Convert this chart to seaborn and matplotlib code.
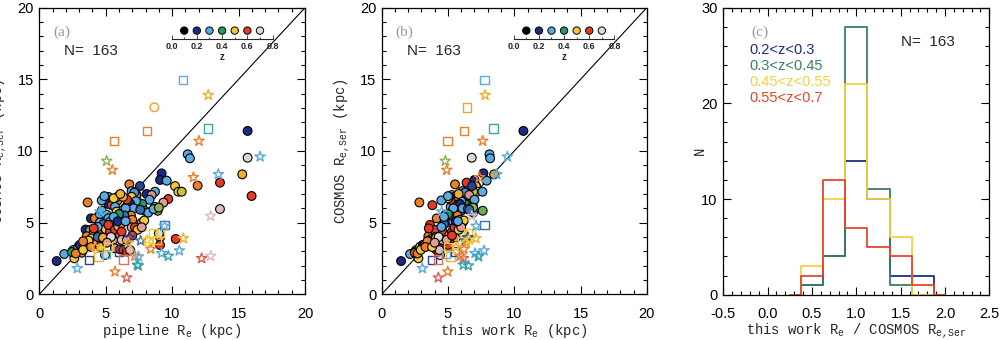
import numpy as np
import pandas as pd
import matplotlib
matplotlib.use("Agg")
import matplotlib.pyplot as plt
import seaborn as sns
from matplotlib.colors import LinearSegmentedColormap
from matplotlib.ticker import MultipleLocator, FormatStrFormatter

# ---------------- data ----------------
# filled circles: COSMOS R_e,Ser (y), redshift, pipeline R_e (panel a x), this-work R_e (panel b x)
circ_ser = [11.40, 9.53, 9.77, 9.49, 8.37, 7.79, 7.58, 6.86, 5.95, 8.44,
            7.98, 7.93, 7.55, 7.16, 7.16, 6.65, 6.40, 6.10, 5.83, 7.55,
            7.67, 7.00, 7.16, 6.93, 6.93, 7.20, 7.10, 6.93, 6.60, 6.35,
            6.30, 5.83, 6.41, 3.86, 3.97, 3.44, 4.25, 2.32, 2.81, 2.51,
            3.09, 2.95, 2.90, 3.32, 3.45, 3.44, 2.85, 3.10, 5.30, 5.30,
            4.52, 4.47, 4.23, 4.23, 4.23, 4.05, 3.90, 3.67, 3.55, 5.02,
            5.60, 5.84, 6.80, 6.55, 6.30, 6.53, 6.80, 6.22, 6.10, 5.77,
            5.55, 5.30, 5.05, 4.90, 4.55, 4.37, 4.84, 4.50, 3.79, 3.21,
            2.74, 4.14, 4.72, 4.95, 4.37, 3.14, 3.09, 2.98, 3.09, 3.79,
            6.80, 6.50, 6.30, 6.00, 5.50, 5.20, 4.67, 4.67, 5.00, 5.15,
            4.50, 4.68, 6.00, 5.50, 5.60, 5.40, 4.70, 4.60, 6.60, 6.80,
            6.70, 4.00, 3.75, 3.70, 3.95, 4.00, 3.80, 4.10, 5.10, 5.10,
            5.70, 5.95, 6.05, 5.90, 3.30, 3.30, 3.60, 6.55, 6.85, 7.00]
circ_z = [0.20, 0.70, 0.30, 0.30, 0.52, 0.60, 0.55, 0.60, 0.68, 0.20,
          0.20, 0.30, 0.50, 0.50, 0.48, 0.60, 0.66, 0.30, 0.44, 0.22,
          0.55, 0.20, 0.30, 0.50, 0.66, 0.30, 0.28, 0.65, 0.30, 0.30,
          0.40, 0.40, 0.55, 0.60, 0.65, 0.60, 0.70, 0.20, 0.30, 0.50,
          0.30, 0.40, 0.55, 0.50, 0.20, 0.55, 0.55, 0.50, 0.20, 0.55,
          0.20, 0.45, 0.55, 0.50, 0.55, 0.55, 0.50, 0.55, 0.60, 0.30,
          0.30, 0.30, 0.30, 0.30, 0.20, 0.55, 0.50, 0.60, 0.30, 0.50,
          0.30, 0.30, 0.30, 0.25, 0.50, 0.60, 0.60, 0.60, 0.66, 0.66,
          0.70, 0.55, 0.66, 0.55, 0.60, 0.60, 0.60, 0.60, 0.68, 0.68,
          0.50, 0.30, 0.20, 0.30, 0.55, 0.55, 0.66, 0.60, 0.55, 0.50,
          0.50, 0.66, 0.30, 0.25, 0.40, 0.30, 0.30, 0.60, 0.60, 0.52,
          0.50, 0.25, 0.50, 0.55, 0.52, 0.70, 0.66, 0.60, 0.20, 0.30,
          0.30, 0.30, 0.45, 0.25, 0.55, 0.50, 0.66, 0.30, 0.30, 0.52]
circ_pipe = [15.68, 15.68, 11.17, 11.34, 15.28, 13.60, 11.92, 15.98, 13.60, 9.21,
             9.09, 9.59, 10.22, 10.47, 10.72, 9.71, 9.34, 8.71, 8.91, 7.58,
             6.78, 8.08, 8.71, 7.33, 7.28, 6.95, 7.15, 8.46, 8.30, 7.58,
             7.75, 7.95, 3.64, 10.27, 9.09, 9.09, 9.00, 1.31, 1.88, 2.64,
             2.56, 2.45, 3.19, 2.94, 3.05, 3.57, 2.75, 3.30, 3.89, 4.19,
             3.49, 3.82, 4.07, 4.57, 4.95, 3.57, 3.94, 4.32, 4.25, 4.57,
             4.57, 4.70, 5.20, 5.20, 5.20, 5.88, 5.88, 5.45, 5.70, 5.82,
             5.07, 5.20, 5.32, 4.82, 5.00, 5.32, 5.20, 5.70, 5.57, 5.70,
             4.95, 6.08, 5.95, 6.20, 6.20, 6.08, 6.33, 6.58, 6.83, 6.20,
             6.95, 7.28, 6.85, 7.10, 6.90, 7.00, 6.95, 7.20, 7.71, 7.90,
             7.40, 7.71, 6.50, 6.40, 6.00, 5.60, 4.40, 4.10, 6.60, 6.30,
             5.60, 4.40, 3.70, 3.30, 4.80, 5.40, 6.60, 7.00, 5.90, 6.50,
             8.20, 8.60, 9.00, 7.60, 3.90, 4.60, 5.10, 4.70, 4.90, 6.10]
circ_this = [10.69, 6.79, 8.13, 8.18, 8.48, 6.40, 7.10, 6.80, 6.10, 7.67,
             7.00, 7.92, 7.10, 7.20, 6.90, 6.79, 6.20, 6.90, 7.62, 6.80,
             5.53, 6.50, 7.60, 6.50, 5.30, 6.10, 6.30, 6.60, 7.00, 6.30,
             6.29, 6.00, 2.84, 5.20, 5.60, 5.00, 6.10, 1.46, 2.14, 2.77,
             2.60, 2.50, 2.51, 2.90, 3.10, 3.27, 2.70, 2.95, 4.90, 4.15,
             4.50, 4.30, 3.90, 4.20, 4.60, 3.52, 3.80, 3.60, 3.70, 5.00,
             5.30, 5.60, 5.60, 5.80, 5.50, 5.40, 5.50, 3.82, 5.20, 5.30,
             4.80, 5.20, 5.40, 4.70, 4.40, 4.60, 3.64, 4.00, 4.50, 4.30,
             4.40, 5.10, 5.80, 5.60, 5.30, 4.10, 4.20, 4.25, 4.35, 4.60,
             5.70, 6.00, 5.90, 6.10, 5.70, 5.90, 5.50, 5.50, 6.10, 6.20,
             5.80, 6.00, 5.40, 5.10, 5.00, 4.70, 4.50, 3.55, 5.20, 5.10,
             5.00, 4.05, 3.50, 3.45, 4.10, 4.30, 4.90, 5.30, 5.60, 5.75,
             6.90, 6.50, 6.90, 6.60, 3.30, 3.80, 4.00, 4.50, 5.00, 5.80]

# open squares
sq_ser = [14.95, 11.40, 11.58, 10.70, 2.40, 2.63, 2.79, 2.98, 2.44, 3.32, 4.30, 4.30, 3.79, 3.74, 4.84]
sq_z = [0.30, 0.55, 0.35, 0.55, 0.22, 0.52, 0.30, 0.22, 0.63, 0.50, 0.50, 0.50, 0.50, 0.50, 0.25]
sq_pipe = [10.84, 8.13, 12.72, 5.65, 3.74, 4.45, 5.02, 5.98, 6.33, 5.15, 8.58, 9.09, 8.84, 8.20, 9.42]
sq_this = [7.75, 6.21, 8.43, 4.96, 3.77, 5.20, 4.86, 5.53, 4.23, 5.00, 6.50, 6.70, 6.30, 6.10, 7.75]

# open stars
st_ser = [13.90, 10.70, 9.60, 9.30, 8.67, 8.16, 8.37, 5.46, 3.90, 3.05,
          2.51, 2.67, 1.81, 1.58, 1.16, 5.77, 3.97, 3.74, 3.60, 2.67,
          2.63, 2.05, 2.00, 3.16, 3.79, 2.86, 2.67, 4.77, 3.30]
st_z = [0.52, 0.55, 0.30, 0.45, 0.55, 0.55, 0.30, 0.68, 0.52, 0.30,
        0.62, 0.68, 0.30, 0.55, 0.62, 0.30, 0.22, 0.25, 0.52, 0.55,
        0.30, 0.35, 0.35, 0.55, 0.50, 0.30, 0.35, 0.30, 0.52]
st_pipe = [12.72, 12.02, 16.62, 5.07, 5.50, 11.60, 13.48, 12.90, 10.84, 10.54,
           12.22, 12.90, 2.86, 5.70, 6.58, 4.57, 6.83, 7.63, 6.70, 7.20,
           7.46, 7.38, 7.45, 8.39, 8.13, 9.21, 9.71, 9.42, 4.20]
st_this = [7.80, 7.62, 9.48, 4.80, 4.90, 7.37, 8.68, 6.80, 7.10, 7.72,
           6.16, 6.00, 3.07, 4.98, 4.27, 4.53, 6.50, 6.30, 6.40, 5.90,
           7.30, 6.16, 6.54, 6.20, 6.60, 7.04, 7.30, 7.12, 5.60]

# one open object drawn as a circle in (a) and a square in (b)
odd_ser = [13.05]
odd_z = [0.53]
odd_pipe = [8.66]
odd_this = [6.42]

# redshift key
key_z = [0.1, 0.2, 0.3, 0.4, 0.5, 0.6, 0.7]
key_ticks = [0.0, 0.2, 0.4, 0.6, 0.8]

# histogram (panel c)
hist_centers = [0.25, 0.5, 0.75, 1.0, 1.25, 1.5, 1.75, 2.0]
n_blue = [0, 1, 4, 14, 10, 2, 2, 0]
n_green = [0, 1, 4, 28, 11, 1, 0, 0]
n_yellow = [0, 3, 10, 22, 10, 6, 0, 0]
n_red = [0, 2, 12, 7, 5, 4, 1, 0]
hist_labels = ["0.2<z<0.3", "0.3<z<0.45", "0.45<z<0.55", "0.55<z<0.7"]
hist_colors = ["#1c2c8c", "#3a7f60", "#f6d040", "#e8462c"]
n_total = 163

# ---------------- style ----------------
sns.set_style("ticks")
plt.rcParams["font.family"] = ["Liberation Sans", "DejaVu Sans"]
plt.rcParams["mathtext.default"] = "regular"
plt.rcParams["axes.linewidth"] = 0.9

zmap = LinearSegmentedColormap.from_list(
    "zmap",
    [(0.0, "#000000"), (0.125, "#000000"), (0.25, "#1b2a80"), (0.375, "#5aaee2"),
     (0.5, "#1a9a6c"), (0.625, "#f4cc33"), (0.75, "#e53a22"), (0.875, "#dcdcdc"),
     (1.0, "#ffffff")])
ZN = (0.0, 0.8)

MONO = ["Liberation Mono", "DejaVu Sans Mono"]
SERIF = ["Liberation Serif", "DejaVu Serif"]

fig = plt.figure(figsize=(10.04, 3.4), dpi=100)
ax_a = fig.add_axes([0.0391, 0.1344, 0.2647, 0.843])
ax_b = fig.add_axes([0.3802, 0.1344, 0.2640, 0.843])
ax_c = fig.add_axes([0.7204, 0.1332, 0.2650, 0.8442])


def style_axes(ax, xmaj, xmin, ymaj, ymin):
    ax.xaxis.set_major_locator(MultipleLocator(xmaj))
    ax.xaxis.set_minor_locator(MultipleLocator(xmin))
    ax.yaxis.set_major_locator(MultipleLocator(ymaj))
    ax.yaxis.set_minor_locator(MultipleLocator(ymin))
    ax.tick_params(which="both", direction="in", top=True, right=True, width=0.8, colors="black")
    ax.tick_params(which="major", length=6)
    ax.tick_params(which="minor", length=3)
    ax.tick_params(axis="x", which="both", pad=9, labelsize=10.5)
    ax.tick_params(axis="y", which="both", pad=4, labelsize=10.5)
    for s in ax.spines.values():
        s.set_color("black")
        s.set_linewidth(0.9)


def open_points(ax, x, y, z, marker, size):
    sns.scatterplot(x=x, y=y, hue=z, palette=zmap, hue_norm=ZN, marker=marker, s=size,
                    linewidth=1.0, legend=False, ax=ax, zorder=3)
    coll = ax.collections[-1]
    fc = coll.get_facecolors()
    coll.set_edgecolors(fc)
    coll.set_facecolors("none")


def z_key(ax):
    ins = ax.inset_axes([0.498, 0.89, 0.38, 0.06])
    ins.set_xlim(0, 0.8)
    ins.set_ylim(0, 1)
    ins.patch.set_alpha(0)
    for s in ["top", "left", "right"]:
        ins.spines[s].set_visible(False)
    ins.spines["bottom"].set_linewidth(0.8)
    ins.set_yticks([])
    ins.set_xticks(key_ticks)
    ins.xaxis.set_minor_locator(MultipleLocator(0.1))
    ins.xaxis.set_major_formatter(FormatStrFormatter("%.1f"))
    ins.tick_params(axis="x", which="both", direction="in", labelsize=6.5, pad=2, width=0.6)
    ins.tick_params(axis="x", which="major", length=3)
    ins.tick_params(axis="x", which="minor", length=1.5)
    for lab in ins.get_xticklabels():
        lab.set_fontweight("bold")
    sns.scatterplot(x=key_z, y=[0.5] * len(key_z), hue=key_z, palette=zmap, hue_norm=ZN,
                    s=28, edgecolor="black", linewidth=0.7, legend=False, ax=ins, clip_on=False)
    ins.set_xlabel("z", fontsize=7, labelpad=1, fontweight="bold")
    ins.set_ylabel("")


def scatter_panel(ax, xc, xs, xst, xodd, odd_marker, xlabel, tag):
    ax.plot([0, 20], [0, 20], color="black", linewidth=0.8, zorder=1)
    df = pd.DataFrame({"x": xc, "y": circ_ser, "z": circ_z})
    sns.scatterplot(data=df, x="x", y="y", hue="z", palette=zmap, hue_norm=ZN, s=40,
                    edgecolor="black", linewidth=0.8, legend=False, ax=ax, zorder=2)
    open_points(ax, xs, sq_ser, sq_z, "s", 36)
    open_points(ax, xst, st_ser, st_z, "*", 60)
    open_points(ax, xodd, odd_ser, odd_z, odd_marker, 38)
    ax.set_xlim(0, 20)
    ax.set_ylim(0, 20)
    style_axes(ax, 5, 1, 5, 1)
    ax.set_xlabel(xlabel, fontsize=10, family=MONO)
    ax.set_ylabel("COSMOS R$_{e{,}Ser}$ (kpc)", fontsize=10, family=MONO)
    ax.xaxis.set_label_coords(0.5, -0.095)
    ax.yaxis.set_label_coords(-0.112, 0.5)
    ax.text(0.084, 0.916, tag, transform=ax.transAxes, ha="center", va="center",
            fontsize=11, color="#9a9a9a", family=SERIF)
    ax.text(0.094, 0.85, "N=  %d" % n_total, transform=ax.transAxes, ha="left", va="center",
            fontsize=11)
    z_key(ax)


scatter_panel(ax_a, circ_pipe, sq_pipe, st_pipe, odd_pipe, "o", "pipeline R$_e$ (kpc)", "(a)")
scatter_panel(ax_b, circ_this, sq_this, st_this, odd_this, "s", "this work R$_e$ (kpc)", "(b)")

# ---------------- panel c ----------------
for vals, col in zip([n_blue, n_green, n_yellow, n_red], hist_colors):
    sns.lineplot(x=hist_centers, y=vals, color=col, linewidth=1.3, drawstyle="steps-mid",
                 estimator=None, sort=False, ax=ax_c)
ax_c.set_xlim(-0.5, 2.5)
ax_c.set_ylim(0, 30)
style_axes(ax_c, 0.5, 0.1, 10, 2)
ax_c.xaxis.set_major_formatter(FormatStrFormatter("%.1f"))
ax_c.set_xlabel("this work R$_e$ / COSMOS R$_{e{,}Ser}$", fontsize=10, family=MONO)
ax_c.set_ylabel("N", fontsize=10, family=MONO)
ax_c.xaxis.set_label_coords(0.5, -0.095)
ax_c.yaxis.set_label_coords(-0.06, 0.5)
ax_c.text(0.138, 0.916, "(c)", transform=ax_c.transAxes, ha="center", va="center",
          fontsize=11, color="#9a9a9a", family=SERIF)
ax_c.text(0.668, 0.879, "N=  %d" % n_total, transform=ax_c.transAxes, ha="left", va="center",
          fontsize=11)
for i, (lab, col) in enumerate(zip(hist_labels, hist_colors)):
    ax_c.text(0.098, 0.851 - i * 0.055, lab, transform=ax_c.transAxes, ha="left", va="center",
              fontsize=10.5, color=col)

fig.savefig("out.png", dpi=100)
